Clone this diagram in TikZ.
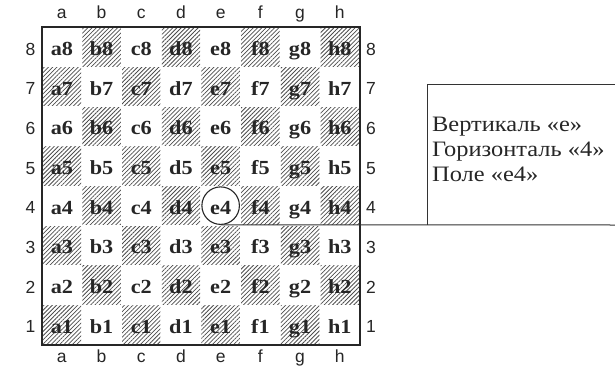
\documentclass[tikz,border=0pt]{standalone}
\usepackage{fontspec}
\setmainfont{Liberation Serif}[FakeStretch=1.11]
\newfontfamily\coordfont{Liberation Sans}
\usetikzlibrary{patterns.meta}
\tikzset{
  sqlabel/.style={font=\fontsize{20}{20}\selectfont\bfseries, inner sep=0pt, anchor=base, text=black!85},
  darksq/.style={pattern={Lines[angle=45,distance=3pt,line width=0.75pt]}, pattern color=black!70},
  coordlabel/.style={font=\coordfont\fontsize{17.5}{17.5}\selectfont, inner sep=0pt, anchor=base, text=black!85},
  infotext/.style={font=\fontsize{22}{22}\selectfont, inner sep=0pt, anchor=base west, text=black!85},
  frame/.style={line width=2pt, draw=black!85},
  thinline/.style={line width=1pt, draw=black!80},
}
\begin{document}
\begin{tikzpicture}[x=1pt,y=-1pt]
\useasboundingbox (0,0) rectangle (615,366);
% squares
\foreach \c [count=\i from 0] in {a,b,c,d,e,f,g,h} {
  \foreach \r in {1,...,8} {
    \pgfmathsetmacro\cx{42+39.7*(\i+0.5)}
    \pgfmathsetmacro\cy{27+39.7*(8.5-\r)}
    \pgfmathtruncatemacro\sqpar{mod(\i+\r,2)}
    \ifnum\sqpar=1
      \fill[darksq] (\cx-19.2,\cy-19.2) rectangle (\cx+19.2,\cy+19.2);
    \fi
    \node[sqlabel] (\c\r) at (\cx,\cy+8.5) {\c\r};
  }
  \pgfmathsetmacro\cx{42+39.7*(\i+0.5)}
  \node[coordlabel] (top\c) at (\cx,18.5) {\c};
  \node[coordlabel] (bot\c) at (\cx,362.5) {\c};
}
\foreach \r in {1,...,8} {
  \pgfmathsetmacro\cy{27+39.7*(8.5-\r)}
  \node[coordlabel] (left\r) at (30.5,\cy+8.2) {\r};
  \node[coordlabel] (right\r) at (371,\cy+8.2) {\r};
}
% frame
\draw[frame] (42,27) rectangle (359.6,344.6);
% circle on e4
\coordinate (e4c) at (220.65,205.65);
\node[circle, draw=black!85, line width=1.1pt, minimum size=37.5pt, inner sep=0pt] (ering) at (e4c) {};
% info box
\coordinate (boxtr) at (616,85);
\coordinate (boxtl) at (427,85);
\coordinate (boxbl) at (427,225);
\coordinate (lineend) at (616,225);
\draw[thinline] (boxtr) -- (boxtl) -- (boxbl);
\draw[thinline] (ering.south) -- (lineend);
\node[infotext] (info1) at (432,131.5) {Вертикаль «е»};
\node[infotext] (info2) at (432,156.3) {Горизонталь «4»};
\node[infotext] (info3) at (432,181.2) {Поле «е4»};
\end{tikzpicture}
\end{document}
